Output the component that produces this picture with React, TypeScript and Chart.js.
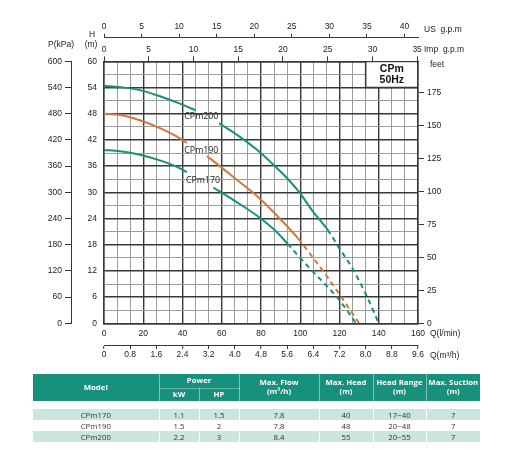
import { useEffect, useRef } from "react";
import { Chart, registerables } from "chart.js";

Chart.register(...registerables);

// pump curves: Q in l/min, H in m (null = gap for the label)
const cpm200Flow = [0, 8.2, 18.3, 28.5, 38.7, 46.5, 52, 58.6, 68, 77.5, 86.6, 93.8, 99.4, 106.3, 114, 119.9, 126.7, 133.5, 140];
const cpm200Head = [54.4, 54.1, 53.4, 52.0, 50.3, 48.8, null, 45.8, 43.1, 39.9, 36.2, 33.0, 30.1, 25.7, 21.4, 17.2, 12.5, 6.6, 0];
const cpm190Flow = [0, 8.2, 18.3, 28.5, 37, 42.2, 47, 52.4, 59, 65.9, 77.5, 87.6, 99, 106.7, 113.5, 120.8, 130];
const cpm190Head = [48.0, 47.7, 46.5, 44.7, 42.8, 41.3, null, 38.3, 36.0, 33.5, 29.3, 24.9, 19.4, 14.9, 10.8, 6.1, 0];
const cpm170Flow = [0, 8.2, 18.3, 28.5, 38.7, 42.2, 49, 55.7, 66, 77.5, 86.8, 93.6, 99.5, 106.3, 114, 120, 128.4];
const cpm170Head = [39.7, 39.4, 38.6, 37.3, 35.5, 34.6, null, 31.1, 28.2, 24.8, 21.4, 18.2, 15.2, 11.9, 8.3, 5.3, 0];

// tick labels of the extra axes
const lminTicks = [0, 20, 40, 60, 80, 100, 120, 140, 160];
const kpaTicks = [0, 60, 120, 180, 240, 300, 360, 420, 480, 540, 600];
const feetTicks = [0, 25, 50, 75, 100, 125, 150, 175];
const usGpmTicks = [0, 5, 10, 15, 20, 25, 30, 35, 40];
const impGpmTicks = [0, 5, 10, 15, 20, 25, 30, 35];

// table below the chart
const models = ["CPm170", "CPm190", "CPm200"];
const powerKw = ["1.1", "1.5", "2.2"];
const powerHp = ["1.5", "2", "3"];
const maxFlow = ["7.8", "7.8", "8.4"];
const maxHead = ["40", "48", "55"];
const headRange = ["17~40", "20~48", "20~55"];
const maxSuction = ["7", "7", "7"];

const TEAL = "#17907c";
const ORANGE = "#d5763b";
const DARK = "#383838";
const LIGHT = "#9c9c9c";
const FONT = "'Liberation Sans', Arial, sans-serif";

const tickFont = { family: FONT, size: 8.5 };

export default function App() {
  const canvasRef = useRef<HTMLCanvasElement | null>(null);

  useEffect(() => {
    document.body.style.margin = "0";
    if (!canvasRef.current) return;
    const ctx = canvasRef.current.getContext("2d");
    if (!ctx) return;

    const curve = (label: string, flow: number[], head: (number | null)[], color: string, dashFrom: number) => ({
      label,
      data: flow.map((x, i) => ({ x, y: head[i] })),
      borderColor: color,
      borderWidth: 2,
      pointRadius: 0,
      cubicInterpolationMode: "monotone" as const,
      spanGaps: false,
      xAxisID: "x",
      yAxisID: "y",
      segment: {
        borderDash: (c: any) => (c.p0.parsed.x >= dashFrom ? [5, 4] : undefined),
      },
    });

    const setTicks = (values: number[]) => (scale: any) => {
      scale.ticks = values.map((v) => ({ value: v }));
    };

    // CPm 50Hz box, curve names and axis unit titles
    const overlay = {
      id: "overlay",
      beforeDatasetsDraw(chart: any) {
        const { ctx, chartArea, scales } = chart;
        const left = scales.x2.getPixelForValue(8.0);
        const bottom = scales.y.getPixelForValue(54);
        ctx.save();
        ctx.fillStyle = "#fff";
        ctx.fillRect(left, chartArea.top + 1, chartArea.right - left - 1, bottom - chartArea.top - 1);
        ctx.strokeStyle = DARK;
        ctx.lineWidth = 1.5;
        ctx.beginPath();
        ctx.moveTo(left, chartArea.top);
        ctx.lineTo(left, bottom);
        ctx.lineTo(chartArea.right, bottom);
        ctx.stroke();
        ctx.fillStyle = "#111";
        ctx.font = `bold 10.5px ${FONT}`;
        ctx.textAlign = "center";
        ctx.textBaseline = "middle";
        const cx = (left + chartArea.right) / 2;
        ctx.fillText("CPm", cx, chartArea.top + 8);
        ctx.fillText("50Hz", cx, chartArea.top + 19);
        ctx.restore();
      },
      afterDatasetsDraw(chart: any) {
        const { ctx, scales } = chart;
        ctx.save();
        ctx.fillStyle = "#222";
        ctx.font = "8.8px 'Open Sans', sans-serif";
        ctx.textAlign = "center";
        ctx.textBaseline = "middle";
        const names: [string, number, number][] = [
          ["CPm200", 49.6, 47.4],
          ["CPm190", 49.6, 39.6],
          ["CPm170", 50.4, 32.6],
        ];
        for (const [t, x, y] of names) {
          ctx.fillText(t, scales.x.getPixelForValue(x), scales.y.getPixelForValue(y));
        }
        ctx.restore();
      },
      afterDraw(chart: any) {
        const { ctx, chartArea, scales } = chart;
        ctx.save();
        ctx.fillStyle = "#222";
        ctx.font = `8.5px ${FONT}`;
        ctx.textBaseline = "middle";
        ctx.textAlign = "center";
        ctx.fillText("P(kPa)", scales.y2.right - 10, chartArea.top - 17);
        ctx.fillText("H", scales.y.right - 12, chartArea.top - 27);
        ctx.fillText("(m)", scales.y.right - 13, chartArea.top - 17);
        ctx.textAlign = "left";
        ctx.fillText("US  g.p.m", chartArea.right + 6, scales.x4.bottom - 8.5);
        ctx.fillText("Imp  g.p.m", chartArea.right + 6, chartArea.top - 11.3);
        ctx.fillText("feet", chartArea.right + 12, chartArea.top + 3.5);
        ctx.fillText("Q(l/min)", chartArea.right + 12, chartArea.bottom + 10);
        ctx.fillText("Q(m³/h)", chartArea.right + 12, chartArea.bottom + 32);
        ctx.restore();
      },
    };

    const chartInstance = new Chart(ctx, {
      type: "line",
      data: {
        datasets: [
          curve("CPm200", cpm200Flow, cpm200Head, TEAL, 114),
          curve("CPm190", cpm190Flow, cpm190Head, ORANGE, 99),
          curve("CPm170", cpm170Flow, cpm170Head, TEAL, 93.6),
        ],
      },
      options: {
        animation: false,
        responsive: true,
        maintainAspectRatio: false,
        events: [],
        layout: { padding: { left: 41, top: 20, right: 54, bottom: 100 } },
        plugins: { legend: { display: false }, tooltip: { enabled: false } },
        scales: {
          // Q l/min (data axis)
          x: {
            type: "linear",
            position: "bottom",
            min: 0,
            max: 160,
            afterBuildTicks: setTicks(lminTicks),
            afterFit: (s: any) => { s.height = 21.7; },
            grid: { display: true, drawOnChartArea: false, drawTicks: false },
            border: { display: true, color: DARK, width: 1.5 },
            ticks: { autoSkip: false, maxRotation: 0, padding: 5, color: "#222", font: tickFont },
          },
          // Q m3/h, carries the vertical grid
          x2: {
            type: "linear",
            position: "bottom",
            min: 0,
            max: 9.6,
            afterFit: (s: any) => { s.height = 20; },
            grid: {
              drawOnChartArea: true,
              drawTicks: true,
              tickLength: 4,
              color: (c: any) => (Math.round(c.tick.value / 0.4) % 3 === 0 ? DARK : LIGHT),
              lineWidth: (c: any) => (Math.round(c.tick.value / 0.4) % 3 === 0 ? 1.4 : 1),
              tickColor: (c: any) => (Math.round(c.tick.value / 0.4) % 2 === 0 ? DARK : "rgba(0,0,0,0)"),
              tickWidth: 1,
            },
            border: { display: true, color: DARK, width: 1 },
            ticks: {
              stepSize: 0.4,
              autoSkip: false,
              maxRotation: 0,
              padding: 1,
              color: "#222",
              font: tickFont,
              callback: (v: any) => {
                const k = Math.round(v / 0.4);
                if (k % 2 !== 0) return "";
                return k === 0 ? "0" : (k * 0.4).toFixed(1);
              },
            },
          },
          // Imp g.p.m
          x3: {
            type: "linear",
            position: "top",
            min: 0,
            max: 35.1,
            afterBuildTicks: setTicks(impGpmTicks),
            afterFit: (s: any) => { s.height = 23.6; },
            grid: { drawOnChartArea: false, tickLength: 5, tickColor: DARK, tickWidth: 1 },
            border: { display: true, color: DARK, width: 1.5 },
            ticks: { autoSkip: false, maxRotation: 0, padding: 1.2, color: "#222", font: tickFont },
          },
          // US g.p.m
          x4: {
            type: "linear",
            position: "top",
            min: 0,
            max: 41.8,
            afterBuildTicks: setTicks(usGpmTicks),
            afterFit: (s: any) => { s.height = 17.7; },
            grid: { drawOnChartArea: false, tickLength: 4, tickColor: DARK, tickWidth: 1 },
            border: { display: true, color: DARK, width: 1 },
            ticks: { autoSkip: false, maxRotation: 0, padding: 1.6, color: "#222", font: tickFont },
          },
          // H m (data axis), carries the horizontal grid
          y: {
            type: "linear",
            position: "left",
            min: 0,
            max: 60,
            afterFit: (s: any) => { s.width = 33; },
            grid: {
              drawOnChartArea: true,
              drawTicks: false,
              color: (c: any) => (c.tick.value % 6 === 0 ? DARK : LIGHT),
              lineWidth: (c: any) => (c.tick.value % 6 === 0 ? 1.4 : 1),
            },
            border: { display: true, color: DARK, width: 1.5 },
            ticks: {
              stepSize: 3,
              autoSkip: false,
              padding: 7,
              color: "#222",
              font: tickFont,
              callback: (v: any) => (v % 6 === 0 ? String(v) : ""),
            },
          },
          // P kPa
          y2: {
            type: "linear",
            position: "left",
            min: 0,
            max: 600,
            afterBuildTicks: setTicks(kpaTicks),
            afterFit: (s: any) => { s.width = 30; },
            grid: { drawOnChartArea: false, tickLength: 6, tickColor: DARK, tickWidth: 1 },
            border: { display: true, color: DARK, width: 1 },
            ticks: { autoSkip: false, padding: 3, color: "#222", font: tickFont },
          },
          // feet
          y3: {
            type: "linear",
            position: "right",
            min: 0,
            max: 199,
            afterBuildTicks: setTicks(feetTicks),
            afterFit: (s: any) => { s.width = 40; },
            grid: { drawOnChartArea: false, tickLength: 6, tickColor: DARK, tickWidth: 1 },
            border: { display: true, color: DARK, width: 1.5 },
            ticks: { autoSkip: false, padding: 3, color: "#222", font: tickFont },
          },
        },
      },
      plugins: [overlay],
    });

    return () => {
      chartInstance.destroy();
    };
  }, []);

  const th: React.CSSProperties = {
    color: "#fff",
    fontWeight: 700,
    padding: 0,
    lineHeight: "9px",
    borderRight: "1px solid rgba(255,255,255,0.45)",
  };
  const td: React.CSSProperties = {
    padding: 0,
    color: "#333",
    lineHeight: "10px",
    borderRight: "1px solid #fff",
  };

  return (
    <div style={{ position: "relative", width: 512, height: 465, background: "#fff" }}>
      <canvas ref={canvasRef}></canvas>
      <table
        style={{
          position: "absolute",
          left: 33,
          top: 374,
          width: 447,
          borderCollapse: "collapse",
          tableLayout: "fixed",
          fontFamily: "'Open Sans', 'Noto Sans', sans-serif",
          fontSize: 7.8,
          textAlign: "center",
        }}
      >
        <colgroup>
          <col style={{ width: 126 }} />
          <col style={{ width: 40 }} />
          <col style={{ width: 40 }} />
          <col style={{ width: 80 }} />
          <col style={{ width: 54 }} />
          <col style={{ width: 53 }} />
          <col style={{ width: 54 }} />
        </colgroup>
        <thead>
          <tr style={{ height: 14, background: TEAL }}>
            <th rowSpan={2} style={th}>Model</th>
            <th colSpan={2} style={{ ...th, borderBottom: "1px solid rgba(255,255,255,0.35)" }}>Power</th>
            <th rowSpan={2} style={th}>Max. Flow<br />(m³/h)</th>
            <th rowSpan={2} style={th}>Max. Head<br />(m)</th>
            <th rowSpan={2} style={th}>Head Range<br />(m)</th>
            <th rowSpan={2} style={{ ...th, borderRight: "none" }}>Max. Suction<br />(m)</th>
          </tr>
          <tr style={{ height: 12.7, background: TEAL }}>
            <th style={th}>kW</th>
            <th style={th}>HP</th>
          </tr>
        </thead>
        <tbody>
          <tr style={{ height: 8.6 }}>
            <td colSpan={7} style={{ padding: 0 }}></td>
          </tr>
          {models.map((m, i) => (
            <tr key={m} style={{ height: 11, background: i % 2 === 0 ? "#cbe5df" : "#fff" }}>
              <td style={td}>{m}</td>
              <td style={td}>{powerKw[i]}</td>
              <td style={td}>{powerHp[i]}</td>
              <td style={td}>{maxFlow[i]}</td>
              <td style={td}>{maxHead[i]}</td>
              <td style={td}>{headRange[i]}</td>
              <td style={{ ...td, borderRight: "none" }}>{maxSuction[i]}</td>
            </tr>
          ))}
        </tbody>
      </table>
    </div>
  );
}
